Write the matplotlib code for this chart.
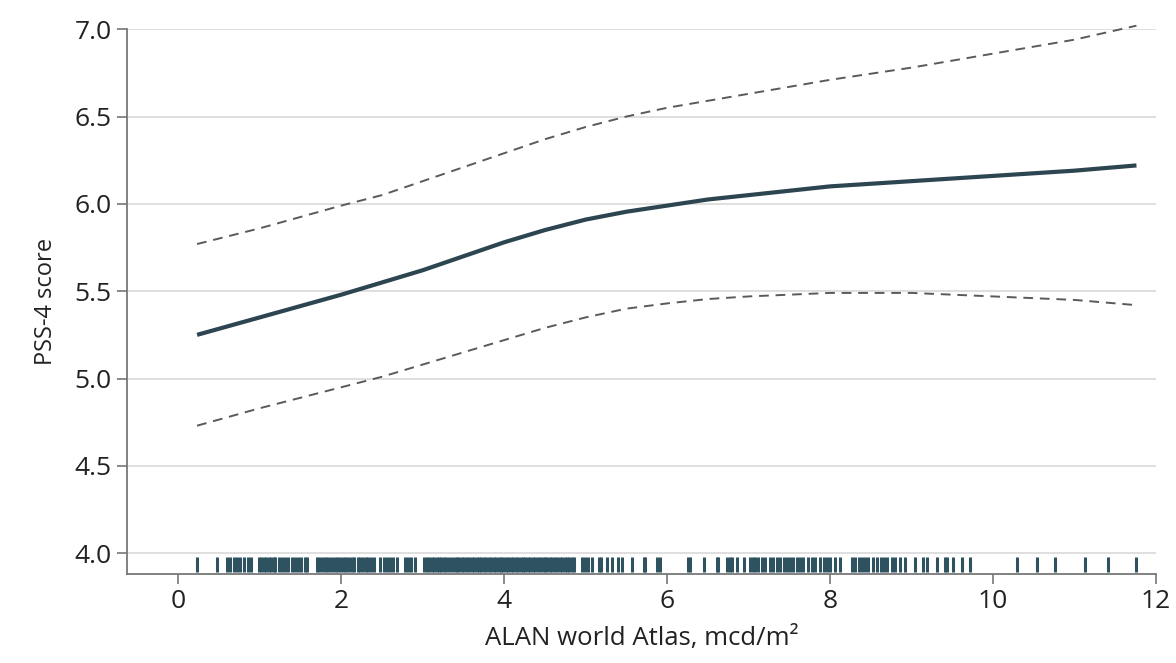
import numpy as np
from matplotlib import pyplot as plt

# fitted curve and 95% band
x_fit = [0.23, 1, 2, 2.5, 3, 3.5, 4, 4.5, 5, 5.5, 6, 6.5, 7, 8, 9, 10, 11, 11.76]
y_fit = [5.25, 5.35, 5.48, 5.55, 5.62, 5.70, 5.78, 5.85, 5.91, 5.955, 5.99, 6.025, 6.05, 6.10, 6.13, 6.16, 6.19, 6.22]

x_band = [0.23, 1, 2, 2.5, 3, 3.5, 4, 4.5, 5, 5.5, 6, 6.5, 7, 8, 9, 10, 11, 11.76]
y_upper = [5.77, 5.86, 5.99, 6.05, 6.13, 6.21, 6.29, 6.37, 6.44, 6.50, 6.55, 6.59, 6.63, 6.71, 6.78, 6.86, 6.94, 7.02]
y_lower = [4.73, 4.83, 4.95, 5.01, 5.08, 5.15, 5.22, 5.29, 5.35, 5.40, 5.43, 5.455, 5.47, 5.49, 5.49, 5.47, 5.45, 5.42]

# observed exposure values (rug)
rug_x = [0.23, 0.47, 0.60, 0.64, 0.68, 0.72, 0.76, 0.81, 0.85, 0.89,
         0.99, 1.02, 1.05, 1.08, 1.11, 1.14, 1.17, 1.19,
         1.23, 1.27, 1.31, 1.35, 1.39, 1.43, 1.47, 1.51, 1.55, 1.58,
         1.70, 1.73, 1.76, 1.80, 1.83, 1.86, 1.90, 1.93, 1.96, 2.00, 2.03,
         2.06, 2.10, 2.13, 2.16, 2.20, 2.23, 2.27, 2.30, 2.33, 2.37, 2.40,
         2.48, 2.52, 2.56, 2.60, 2.64, 2.68, 2.78, 2.82, 2.86, 2.90,
         3.02, 3.05, 3.08, 3.11, 3.14, 3.17, 3.20, 3.23, 3.26, 3.29, 3.32,
         3.36, 3.39, 3.42, 3.45, 3.48, 3.51, 3.54, 3.57, 3.60, 3.63, 3.66,
         3.69, 3.72, 3.75, 3.78, 3.81, 3.84, 3.87, 3.90, 3.93, 3.96, 3.99,
         4.02, 4.05, 4.08, 4.11, 4.14, 4.17, 4.20, 4.23, 4.26, 4.29, 4.32,
         4.35, 4.38, 4.41, 4.44, 4.47, 4.50, 4.53, 4.56, 4.59, 4.62, 4.65,
         4.68, 4.71, 4.74, 4.77, 4.80, 4.83, 4.86,
         4.95, 4.99, 5.03, 5.08, 5.16, 5.19, 5.26, 5.32, 5.40, 5.44, 5.57,
         5.71, 5.73, 5.88, 5.91, 6.26, 6.28, 6.45, 6.61, 6.63, 6.73, 6.77,
         6.79, 6.86, 6.94, 7.02, 7.05, 7.08, 7.12, 7.16, 7.20, 7.26, 7.30,
         7.35, 7.39, 7.43, 7.47, 7.51, 7.55, 7.59, 7.63, 7.67, 7.73, 7.78,
         7.82, 7.88, 7.92, 7.96, 8.00, 8.06, 8.12, 8.27, 8.31, 8.35, 8.39,
         8.43, 8.47, 8.53, 8.57, 8.63, 8.66, 8.70, 8.76, 8.80, 8.86, 8.92,
         9.04, 9.14, 9.19, 9.31, 9.41, 9.44, 9.51, 9.62, 9.72,
         10.29, 10.54, 10.76, 11.13, 11.41, 11.76]

y_ticks = [4.0, 4.5, 5.0, 5.5, 6.0, 6.5, 7.0]
x_ticks = [0, 2, 4, 6, 8, 10, 12]

plt.rcParams['font.family'] = ['Open Sans', 'DejaVu Sans']

fig = plt.figure(figsize=(11.76, 6.63), dpi=100)
ax = fig.add_axes([0.108, 0.134, 0.875, 0.822])

for yt in y_ticks:
    ax.axhline(yt, color="#dcdcdc", lw=1.3, zorder=0)

# dense region reads as a solid band in the original, so use wider ticks
ax.vlines(rug_x, 3.89, 3.977, color="#2f5261", lw=2.2, zorder=2)

ax.plot(x_band, y_upper, color="#555b5e", lw=1.4, ls=(0, (5, 3.5)), zorder=3, clip_on=False)
ax.plot(x_band, y_lower, color="#555b5e", lw=1.4, ls=(0, (5, 3.5)), zorder=3)
ax.plot(x_fit, y_fit, color="#2c4550", lw=3, solid_capstyle="butt", zorder=4)

ax.set_xlim(-0.63, 12)
ax.set_ylim(3.88, 7.0)
ax.set_xticks(x_ticks)
ax.set_yticks(y_ticks)
ax.set_yticklabels(["%.1f" % v for v in y_ticks])
ax.tick_params(axis="both", labelsize=19, colors="#222222", length=7, width=1.2,
               color="#777777", pad=4)

for s in ["top", "right"]:
    ax.spines[s].set_visible(False)
for s in ["left", "bottom"]:
    ax.spines[s].set_color("#777777")
    ax.spines[s].set_linewidth(1.3)

ax.set_xlabel("ALAN world Atlas, mcd/m²", fontsize=18.5, color="#222222", labelpad=8)
ax.set_ylabel("PSS-4 score", fontsize=17, color="#222222", labelpad=12)

fig.savefig("out.png", dpi=100)
